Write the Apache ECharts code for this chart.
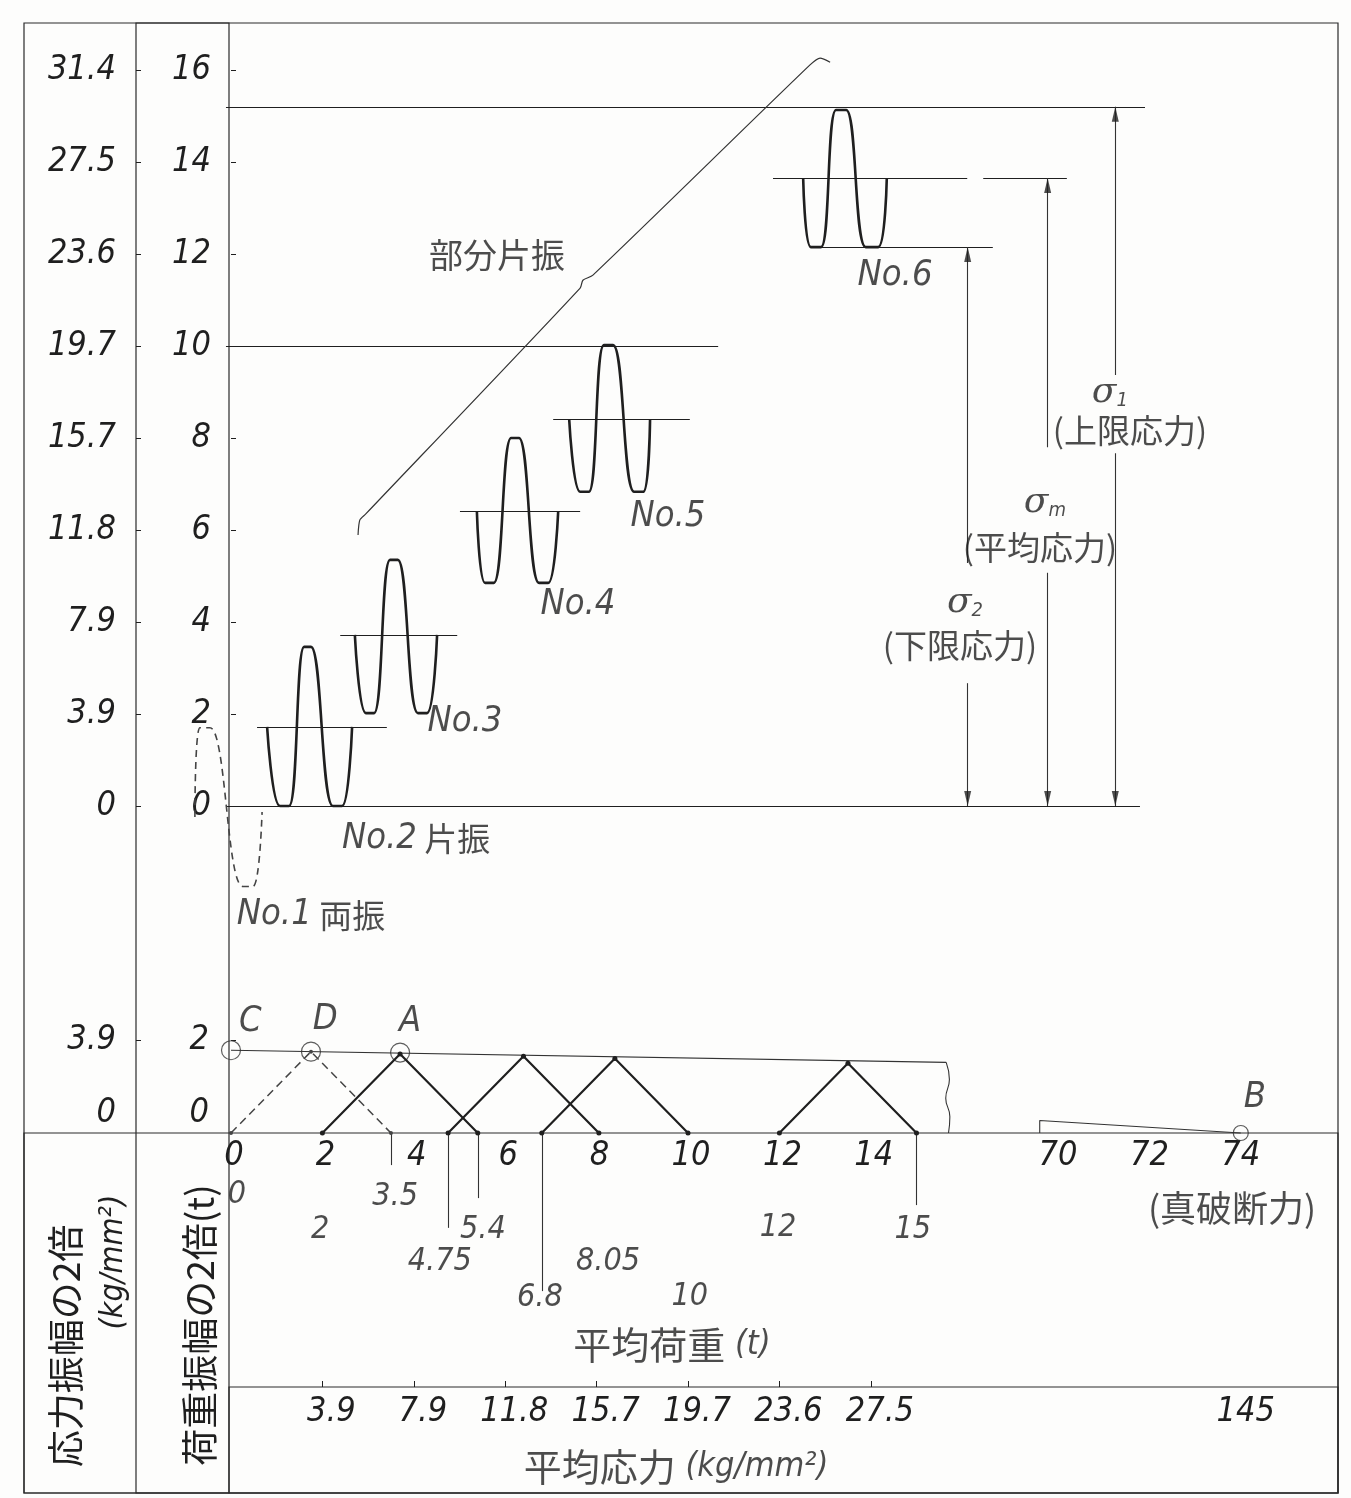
<!DOCTYPE html>
<html>
<head>
<meta charset="utf-8">
<title>荷重振幅と平均荷重</title>
<script src="https://cdn.jsdelivr.net/npm/echarts@6.0.0/dist/echarts.min.js"></script>
<style>
html,body{margin:0;padding:0;background:#fdfdfc;}
#chart{width:1351px;height:1498px;}
</style>
</head>
<body>
<div id="chart"></div>
<script>
// ===================== DATA =====================
// --- top panel: x = drawing position on the mean-load scale (t), y = load (t)
const loadTicks = [0, 2, 4, 6, 8, 10, 12, 14, 16];
const loadStressLabels = ['0', '3.9', '7.9', '11.8', '15.7', '19.7', '23.6', '27.5', '31.4'];

const waveNo1 = [[-0.79, -0.24], [-0.68, 1.7], [-0.46, 1.7], [0.26, -1.75], [0.48, -1.75], [0.68, -0.13]];
const waveNo2 = [[0.79, 1.72], [1.07, 0], [1.27, 0], [1.60, 3.46], [1.75, 3.46], [2.23, 0], [2.43, 0], [2.65, 1.72]];
const waveNo3 = [[2.71, 3.72], [2.95, 2.02], [3.13, 2.02], [3.48, 5.35], [3.65, 5.35], [4.09, 2.02], [4.29, 2.02], [4.51, 3.72]];
const waveNo4 = [[5.38, 6.41], [5.56, 4.85], [5.75, 4.85], [6.13, 8.0], [6.30, 8.0], [6.74, 4.85], [6.94, 4.85], [7.16, 6.41]];
const waveNo5 = [[7.40, 8.41], [7.64, 6.83], [7.83, 6.83], [8.16, 10.02], [8.36, 10.02], [8.82, 6.83], [9.02, 6.83], [9.17, 8.41]];
const waveNo6 = [[12.52, 13.65], [12.69, 12.15], [12.91, 12.15], [13.24, 15.13], [13.46, 15.13], [13.89, 12.15], [14.16, 12.15], [14.35, 13.65]];
const partialLine = [[2.78, 5.89], [2.82, 6.22], [2.95, 6.35], [7.64, 11.26], [7.70, 11.43], [7.92, 11.54], [12.67, 16.11], [12.89, 16.26], [13.11, 16.17]];

// horizontal rules: [x from, x to, load]
const topRules = [
  [-0.11, 19.89, 0], [-0.11, 20.0, 15.2], [-0.11, 10.66, 10],
  [0.57, 3.41, 1.72], [2.39, 4.95, 3.72], [5.01, 7.64, 6.41], [7.05, 10.04, 8.41],
  [11.86, 16.11, 13.65], [16.46, 18.29, 13.65], [12.74, 16.67, 12.15]
];
// sigma arrows: [x, upper limit, gap bottom, gap top]
const sigmaArrows = [
  [16.12, 12.15, 2.67, 5.28],
  [17.87, 13.65, 5.07, 7.80],
  [19.35, 15.20, 7.67, 9.37]
];
const sigmaSubs = ['2', 'm', '1'];
const sigmaNames = ['下限応力', '平均応力', '上限応力'];
const sigmaSymPos = [[16.06, 4.41], [17.81, 6.59], [19.23, 8.98]];
const sigmaNamePos = [[15.95, 3.50], [17.70, 5.63], [19.67, 8.17]];

const waveNames = ['No.1', 'No.2', 'No.3', 'No.4', 'No.5', 'No.6'];
const waveKinds = ['両振', '片振', '', '', '', ''];
const waveNamePos = [[1.75, -2.37], [4.05, -0.70], [5.12, 1.83], [7.59, 4.37], [9.56, 6.28], [14.53, 11.52]];
const partialName = '部分片振';
const partialNamePos = [5.82, 11.98];

// --- bottom panel: x = mean load (t), y = load amplitude
const meanLoadTicks = [0, 2, 4, 6, 8, 10, 12, 14];
const meanLoadTicksFar = [70, 72, 74];
const meanStressAt = [2, 4, 6, 8, 10, 12, 14];
const meanStressLabels = ['3.9', '7.9', '11.8', '15.7', '19.7', '23.6', '27.5'];
const meanStressFarAt = [74];
const meanStressFarLabels = ['145'];
const ampTicks = [0, 2];
const ampStressLabels = ['0', '3.9'];

const limitLine = [[0, 1.78], [15.65, 1.52]];
const breakMark = [[15.65, 1.52], [15.72, 1.15], [15.64, 0.75], [15.73, 0.35], [15.70, 0]];
const triDashed = [[0, 0], [1.75, 1.75], [3.5, 0]];
const triangles = [
  [[2, 0], [3.7, 1.7], [5.4, 0]],
  [[4.75, 0], [6.4, 1.65], [8.05, 0]],
  [[6.8, 0], [8.4, 1.6], [10, 0]],
  [[12, 0], [13.5, 1.5], [15, 0]]
];
const circlePts = [[0, 1.78], [1.75, 1.75], [3.7, 1.73]];
const circleNames = ['C', 'D', 'A'];
const circleNamePos = [[0.42, 2.39], [2.06, 2.43], [3.92, 2.39]];
const dropLines = [[3.5, -0.69], [4.75, -2.04], [5.4, -1.40], [6.8, -3.40], [15, -1.55]];
const loadValueLabels = ['0', '2', '3.5', '4.75', '5.4', '6.8', '8.05', '10', '12', '15'];
const loadValuePos = [[0.13, -1.33], [1.95, -2.09], [3.59, -1.38], [4.57, -2.77], [5.51, -2.09], [6.76, -3.55], [8.25, -2.77], [10.04, -3.53], [11.97, -2.04], [14.92, -2.09]];
const farLine = [[69.6, 0], [69.6, 0.27], [74, 0]];
const pointB = [74, 0];
const pointBNamePos = [74.31, 0.75];
const breakForceName = '(真破断力)';
const breakForceNamePos = [73.81, -1.61];
const meanLoadTitlePos = [9.65, -4.56];
const meanStressTitlePos = [9.74, -7.18];

// ===================== LAYOUT / STYLE =====================
const INK = '#1f1f1f';
const NUM = "'Liberation Sans Narrow','DejaVu Sans Condensed','Liberation Sans',sans-serif";
const CJK = "'Noto Sans CJK JP','Noto Sans CJK SC',sans-serif";
const SERIF = "'DejaVu Serif','Liberation Serif',serif";
const num = (s) => ({ fontFamily: NUM, fontStyle: 'italic', fontSize: s, color: INK });
const cjk = (s) => ({ fontFamily: CJK, fontSize: s, color: INK });
const AX = 34;   // axis number size

const X0 = 231, PXT = 45.7;          // px of mean-load 0, px per t
const YT0 = 806, PXL = 46;           // top panel
const YB0 = 1133, PXA = 46.5;        // bottom panel
const FAR70 = 1058;                  // px of 70 t after the break
const STRESS_LINE = 1387;
const COL1 = 136, COL0 = 24, COL2 = 229, RIGHT = 1338, TOP = 23, BOTTOM = 1493;

const topX = [-1, 24], topY = [-3.8, 17];
const botX = [0, 16.2], farX = [68, 76], botY = [-7.8, 3.8];

const noBounds = { outerBoundsMode: 'none', containLabel: false };
const g0 = Object.assign({ left: X0 + topX[0] * PXT, top: YT0 - topY[1] * PXL, width: (topX[1] - topX[0]) * PXT, height: (topY[1] - topY[0]) * PXL }, noBounds);
const g1 = Object.assign({ left: X0, top: YB0 - botY[1] * PXA, width: (botX[1] - botX[0]) * PXT, height: (botY[1] - botY[0]) * PXA }, noBounds);
const g2 = Object.assign({ left: FAR70 - (70 - farX[0]) * PXT, top: g1.top, width: (farX[1] - farX[0]) * PXT, height: g1.height }, noBounds);
const botEdge = g1.top + g1.height;
const zeroOffset = -(botEdge - YB0);
const stressOffset = -(botEdge - STRESS_LINE);

const frame = (o) => Object.assign({ show: true, borderColor: '#2a2a2a', borderWidth: 1.2, backgroundColor: 'transparent' }, noBounds, o);
const grids = [
  g0, g1, g2,
  frame({ left: COL0, top: TOP, right: 1351 - RIGHT, bottom: 1498 - BOTTOM }),
  frame({ left: COL1, top: TOP, width: COL2 - COL1, bottom: 1498 - BOTTOM }),
  frame({ left: COL0, top: YB0, right: 1351 - RIGHT, bottom: 1498 - BOTTOM }),
  frame({ left: COL2, top: STRESS_LINE, right: 1351 - RIGHT, bottom: 1498 - BOTTOM })
];

const pick = (keys, labels) => (v) => {
  const i = keys.findIndex(k => Math.abs(k - v) < 1e-6);
  return i < 0 ? '' : labels[i];
};
const lowZero = (labels) => (v) => {
  const s = pick(ampTicks, labels)(v);
  return v === 0 ? '{lo|' + s + '}' : '{hi|' + s + '}';
};
const richLow = { lo: Object.assign(num(AX), { padding: [0, 0, 40, 0] }), hi: num(AX) };

const noLine = { show: false, onZero: false };
const xAxes = [
  { gridIndex: 0, type: 'value', min: topX[0], max: topX[1], show: false, axisLine: noLine },
  { gridIndex: 1, type: 'value', min: botX[0], max: botX[1], position: 'bottom', offset: zeroOffset,
    axisLine: noLine, axisTick: { show: false }, splitLine: { show: false },
    axisLabel: Object.assign(num(AX), { customValues: meanLoadTicks, margin: 6, padding: [0, 0, 0, 6] }) },
  { gridIndex: 2, type: 'value', min: farX[0], max: farX[1], position: 'bottom', offset: zeroOffset,
    axisLine: noLine, axisTick: { show: false }, splitLine: { show: false },
    axisLabel: Object.assign(num(AX), { customValues: meanLoadTicksFar, margin: 6 }) },
  { gridIndex: 1, type: 'value', min: botX[0], max: botX[1], position: 'bottom', offset: stressOffset,
    axisLine: noLine, splitLine: { show: false },
    axisTick: { show: true, inside: true, length: 6, customValues: meanStressAt, lineStyle: { color: INK } },
    axisLabel: Object.assign(num(AX), { customValues: meanStressAt, margin: 8, padding: [0, 0, 0, 18],
      formatter: pick(meanStressAt, meanStressLabels) }) },
  { gridIndex: 2, type: 'value', min: farX[0], max: farX[1], position: 'bottom', offset: stressOffset,
    axisLine: noLine, splitLine: { show: false }, axisTick: { show: false },
    axisLabel: Object.assign(num(AX), { customValues: meanStressFarAt, margin: 8, padding: [0, 0, 0, 10],
      formatter: pick(meanStressFarAt, meanStressFarLabels) }) }
];
const yAxes = [
  { gridIndex: 0, type: 'value', min: topY[0], max: topY[1], position: 'left', offset: -(X0 - g0.left),
    axisLine: noLine, splitLine: { show: false },
    axisTick: { show: true, inside: true, length: 5, customValues: loadTicks, lineStyle: { color: INK } },
    axisLabel: Object.assign(num(AX), { customValues: loadTicks, margin: 20 }) },
  { gridIndex: 0, type: 'value', min: topY[0], max: topY[1], position: 'left', offset: g0.left - COL1,
    axisLine: noLine, splitLine: { show: false },
    axisTick: { show: true, inside: true, length: 5, customValues: loadTicks, lineStyle: { color: INK } },
    axisLabel: Object.assign(num(AX), { customValues: loadTicks, margin: 20, formatter: pick(loadTicks, loadStressLabels) }) },
  { gridIndex: 1, type: 'value', min: botY[0], max: botY[1], position: 'left',
    axisLine: noLine, splitLine: { show: false },
    axisTick: { show: true, inside: true, length: 5, customValues: [2], lineStyle: { color: INK } },
    axisLabel: Object.assign(num(AX), { customValues: ampTicks, margin: 22, formatter: lowZero(ampTicks.map(String)), rich: richLow }) },
  { gridIndex: 1, type: 'value', min: botY[0], max: botY[1], position: 'left', offset: X0 - COL1,
    axisLine: noLine, splitLine: { show: false },
    axisTick: { show: true, inside: true, length: 5, customValues: [2], lineStyle: { color: INK } },
    axisLabel: Object.assign(num(AX), { customValues: ampTicks, margin: 20, formatter: lowZero(ampStressLabels), rich: richLow }) },
  { gridIndex: 2, type: 'value', min: botY[0], max: botY[1], show: false, axisLine: noLine }
];
for (let k = 3; k < grids.length; k++) {
  xAxes.push({ gridIndex: k, type: 'value', show: false });
  yAxes.push({ gridIndex: k, type: 'value', show: false });
}

// ===================== SERIES =====================
const T = { xAxisIndex: 0, yAxisIndex: 0 };
const B = { xAxisIndex: 1, yAxisIndex: 2 };
const F = { xAxisIndex: 2, yAxisIndex: 4 };
const base = { silent: true, animation: false, clip: false };
const series = [];
const add = (o) => series.push(Object.assign({}, base, o));

const ARROW = 'path://M5,0 L10,16 L0,16 Z';

// --- top panel
add(Object.assign({ type: 'lines', coordinateSystem: 'cartesian2d', polyline: false,
  lineStyle: { color: INK, width: 1.2, opacity: 1, curveness: 0 },
  data: topRules.map(r => ({ coords: [[r[0], r[2]], [r[1], r[2]]] })) }, T));
[waveNo2, waveNo3, waveNo4, waveNo5, waveNo6].forEach(w => add(Object.assign({
  type: 'line', data: w, smooth: 0.4, showSymbol: false, lineStyle: { color: INK, width: 2.6 } }, T)));
add(Object.assign({ type: 'line', data: waveNo1, smooth: 0.4, showSymbol: false,
  lineStyle: { color: '#444', width: 1.6, type: [7, 5] } }, T));
add(Object.assign({ type: 'line', data: partialLine, smooth: 0.25, showSymbol: false,
  lineStyle: { color: '#333', width: 1.2 } }, T));
add(Object.assign({ type: 'lines', coordinateSystem: 'cartesian2d',
  lineStyle: { color: '#333', width: 1.1, opacity: 1 },
  data: sigmaArrows.flatMap(a => [{ coords: [[a[0], 0], [a[0], a[2]]] }, { coords: [[a[0], a[3]], [a[0], a[1]]] }]) }, T));
add(Object.assign({ type: 'scatter', symbol: ARROW, symbolSize: [7, 15], itemStyle: { color: INK },
  data: sigmaArrows.flatMap(a => [
    { value: [a[0], 0], symbolRotate: 180, symbolOffset: [0, '-50%'] },
    { value: [a[0], a[1]], symbolRotate: 0, symbolOffset: [0, '50%'] }]) }, T));

const textScatter = (axes, items) => add(Object.assign({
  type: 'scatter', symbolSize: 1, itemStyle: { color: 'rgba(0,0,0,0)' }, z: 5,
  data: items.map(it => ({ value: it.pos, label: Object.assign({ show: true, position: 'inside', formatter: it.text }, it.style) }))
}, axes));

const richNo = { n: num(36), c: cjk(33) };
textScatter(T, waveNames.map((n, i) => ({
  pos: waveNamePos[i],
  text: waveKinds[i] ? '{n|' + n + '}{c| ' + waveKinds[i] + '}' : '{n|' + n + '}',
  style: { rich: richNo }
})));
textScatter(T, [{ pos: partialNamePos, text: partialName, style: cjk(34) }]);
const richSigma = {
  s: { fontFamily: SERIF, fontStyle: 'italic', fontSize: 36, color: INK },
  sub: { fontFamily: NUM, fontStyle: 'italic', fontSize: 20, color: INK, padding: [16, 0, 0, 0] }
};
textScatter(T, sigmaSubs.map((s, i) => ({ pos: sigmaSymPos[i], text: '{s|σ}{sub|' + s + '}', style: { rich: richSigma } })));
textScatter(T, sigmaNames.map((s, i) => ({ pos: sigmaNamePos[i], text: '(' + s + ')', style: cjk(33) })));

// --- bottom panel
add(Object.assign({ type: 'line', data: limitLine, showSymbol: false, lineStyle: { color: '#333', width: 1.2 } }, B));
add(Object.assign({ type: 'line', data: breakMark, smooth: 0.5, showSymbol: false, lineStyle: { color: '#333', width: 1.1 } }, B));
add(Object.assign({ type: 'line', data: triDashed, symbol: 'circle', symbolSize: 4, showSymbol: true,
  itemStyle: { color: '#444' }, lineStyle: { color: '#444', width: 1.5, type: [8, 5] } }, B));
triangles.forEach(t => add(Object.assign({ type: 'line', data: t, symbol: 'circle', symbolSize: 5, showSymbol: true,
  itemStyle: { color: INK }, lineStyle: { color: INK, width: 2.2 } }, B)));
add(Object.assign({ type: 'scatter', data: circlePts, symbol: 'circle', symbolSize: 19,
  itemStyle: { color: 'rgba(0,0,0,0)', borderColor: '#333', borderWidth: 1.2 } }, B));
add(Object.assign({ type: 'lines', coordinateSystem: 'cartesian2d',
  lineStyle: { color: '#333', width: 1.1, opacity: 1 },
  data: dropLines.map(d => ({ coords: [[d[0], 0], [d[0], d[1]]] })) }, B));
textScatter(B, circleNames.map((n, i) => ({ pos: circleNamePos[i], text: n, style: num(36) })));
textScatter(B, loadValueLabels.map((n, i) => ({ pos: loadValuePos[i], text: n, style: num(32) })));
textScatter(B, [
  { pos: meanLoadTitlePos, text: '{c|平均荷重}{n| (t)}', style: { rich: { c: cjk(38), n: num(34) } } },
  { pos: meanStressTitlePos, text: '{c|平均応力}{n| (kg/mm²)}', style: { rich: { c: cjk(38), n: num(34) } } }
]);

// --- far side (after the break)
add(Object.assign({ type: 'line', data: farLine, showSymbol: false, lineStyle: { color: '#333', width: 1.1 } }, F));
add(Object.assign({ type: 'scatter', data: [pointB], symbol: 'circle', symbolSize: 15,
  itemStyle: { color: 'rgba(0,0,0,0)', borderColor: '#333', borderWidth: 1.2 } }, F));
textScatter(F, [
  { pos: pointBNamePos, text: 'B', style: num(36) },
  { pos: breakForceNamePos, text: breakForceName, style: cjk(36) }
]);

// ===================== OPTION =====================
const option = {
  animation: false,
  backgroundColor: '#fdfdfc',
  grid: grids,
  xAxis: xAxes,
  yAxis: yAxes,
  series: series,
  graphic: [
    { type: 'text', x: 66, y: 1346, rotation: Math.PI / 2, silent: true,
      style: { text: '応力振幅の2倍', fontFamily: CJK, fontSize: 37, fill: INK, align: 'center', verticalAlign: 'middle' } },
    { type: 'text', x: 114, y: 1262, rotation: Math.PI / 2, silent: true,
      style: { text: '(kg/mm²)', fontFamily: NUM, fontStyle: 'italic', fontSize: 32, fill: INK, align: 'center', verticalAlign: 'middle' } },
    { type: 'text', x: 200, y: 1325, rotation: Math.PI / 2, silent: true,
      style: { text: '荷重振幅の2倍(t)', fontFamily: CJK, fontSize: 37, fill: INK, align: 'center', verticalAlign: 'middle' } }
  ]
};

const chart = echarts.init(document.getElementById('chart'), null, { renderer: 'canvas' });
chart.setOption(option);
</script>
</body>
</html>
